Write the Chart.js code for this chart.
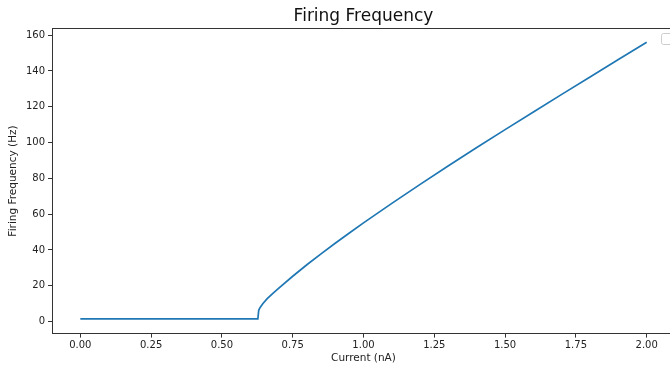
<!DOCTYPE html>
<html>
<head>
<meta charset="utf-8">
<script src="https://cdn.jsdelivr.net/npm/chart.js@4/dist/chart.umd.min.js"></script>
<style>
  html, body { margin: 0; padding: 0; background: #fff; overflow: hidden; }
  #wrap { position: relative; width: 680px; height: 368px; }
</style>
</head>
<body>
<div id="wrap"><canvas id="firingFrequency"></canvas></div>
<script>
const currents = [0, 0.627, 0.63, 0.635, 0.645, 0.66, 0.68, 0.7, 0.75, 0.8, 0.85, 0.9, 0.95,
  1.0, 1.1, 1.2, 1.3, 1.4, 1.5, 1.6, 1.7, 1.8, 1.9, 2.0];
const frequencies = [1.5, 1.5, 6.3, 7.85, 10.05, 12.75, 15.75, 18.55, 25.3, 31.7, 37.8, 43.7, 49.45,
  55.1, 66.0, 76.6, 87.0, 97.2, 107.2, 117.1, 126.9, 136.65, 146.35, 156.0];
const xTicks = [0, 0.25, 0.5, 0.75, 1.0, 1.25, 1.5, 1.75, 2.0];
const yTicks = [0, 20, 40, 60, 80, 100, 120, 140, 160];

const fontFamily = '"DejaVu Sans", sans-serif';
const textColor = '#222';
const spineColor = '#333';
const lineColor = '#1f77b4';

const frameAndLegend = {
  id: 'frameAndLegend',
  afterDraw(chart) {
    const { ctx, chartArea } = chart;
    ctx.save();
    ctx.strokeStyle = spineColor;
    ctx.lineWidth = 1;
    ctx.beginPath();
    ctx.moveTo(Math.round(chartArea.left) + 0.5, Math.round(chartArea.top) + 0.5);
    ctx.lineTo(Math.round(chartArea.right) + 0.5, Math.round(chartArea.top) + 0.5);
    ctx.stroke();
    // empty matplotlib legend frame
    ctx.fillStyle = 'rgba(255,255,255,0.8)';
    ctx.strokeStyle = '#cccccc';
    ctx.beginPath();
    ctx.roundRect(661.5, 33.5, 20, 11, 2);
    ctx.fill();
    ctx.stroke();
    ctx.restore();
  }
};

new Chart(document.getElementById('firingFrequency'), {
  type: 'line',
  data: {
    datasets: [
      {
        data: currents.map((c, i) => ({ x: c, y: frequencies[i] })),
        borderColor: lineColor,
        borderWidth: 1.7,
        pointRadius: 0,
        fill: false,
        tension: 0
      }
    ]
  },
  options: {
    animation: false,
    responsive: true,
    maintainAspectRatio: false,
    layout: {
      padding: { left: 0, right: 5, top: 0, bottom: 0 }
    },
    plugins: {
      legend: { display: false },
      tooltip: { enabled: false },
      title: {
        display: true,
        fullSize: false,
        text: 'Firing Frequency',
        color: '#111',
        font: { family: fontFamily, size: 17, weight: 'normal', lineHeight: 1.2 },
        padding: { top: 6, bottom: 2 }
      }
    },
    scales: {
      x: {
        type: 'linear',
        min: -0.1,
        max: 2.1,
        afterBuildTicks: scale => { scale.ticks = xTicks.map(v => ({ value: v })) },
        afterFit: scale => { scale.height = 34.4 },
        border: { display: true, color: spineColor, width: 1 },
        grid: {
          drawOnChartArea: false,
          drawTicks: true,
          tickLength: 4,
          color: spineColor
        },
        ticks: {
          color: textColor,
          padding: 2,
          maxRotation: 0,
          autoSkip: false,
          font: { family: fontFamily, size: 10 },
          callback: v => v.toFixed(2)
        },
        title: {
          display: true,
          text: 'Current (nA)',
          color: textColor,
          font: { family: fontFamily, size: 10.5 },
          padding: { top: 0, bottom: 3 }
        }
      },
      y: {
        min: -6.75,
        max: 163.75,
        afterBuildTicks: scale => { scale.ticks = yTicks.map(v => ({ value: v })) },
        afterFit: scale => { scale.width = 52 },
        border: { display: true, color: spineColor, width: 1 },
        grid: {
          drawOnChartArea: false,
          drawTicks: true,
          tickLength: 4,
          color: spineColor
        },
        ticks: {
          color: textColor,
          padding: 3,
          autoSkip: false,
          font: { family: fontFamily, size: 10 },
          callback: v => String(v)
        },
        title: {
          display: true,
          text: 'Firing Frequency (Hz)',
          color: textColor,
          font: { family: fontFamily, size: 10.5 },
          padding: { top: 7, bottom: 0 }
        }
      }
    }
  },
  plugins: [frameAndLegend]
});
</script>
</body>
</html>
